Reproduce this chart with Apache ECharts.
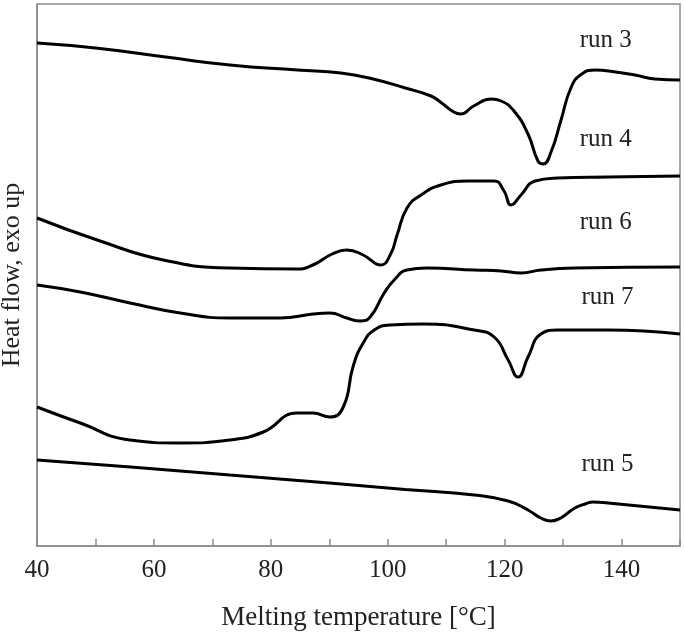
<!DOCTYPE html>
<html>
<head>
<meta charset="utf-8">
<script src="https://cdn.jsdelivr.net/npm/echarts@6/dist/echarts.min.js"></script>
<style>
  html, body { margin: 0; padding: 0; background: #fff; }
  #chart { width: 685px; height: 639px; }
</style>
</head>
<body>
<div id="chart"></div>
<script>
// DSC melting curves, heat flow in arbitrary units (curves offset for clarity)
const run3 = [[40,5.03],[50,4.98],[62,4.89],[73,4.81],[84.5,4.76],[92,4.73],[97.5,4.67],[103,4.58],[107.4,4.50],[109,4.44],[111.3,4.34],[112.5,4.32],[114.7,4.40],[117.7,4.47],[119.4,4.45],[121.6,4.35],[124,4.12],[125.7,3.85],[126.6,3.82],[128,3.95],[129.6,4.25],[131.4,4.59],[133.2,4.72],[135.5,4.76],[139,4.74],[142.3,4.71],[145.7,4.67],[150,4.66]];
const run4 = [[40,3.28],[50.3,3.06],[61.6,2.86],[73,2.78],[84.5,2.77],[87.2,2.81],[90.5,2.92],[93,2.96],[95.8,2.91],[98.8,2.81],[100.5,2.92],[101.6,3.11],[103.3,3.38],[105.7,3.51],[109.1,3.61],[113.7,3.65],[118.2,3.65],[119.9,3.55],[121.1,3.41],[122.8,3.51],[125.2,3.65],[129.1,3.68],[137.7,3.69],[150,3.70]];
const run6 = [[40,2.61],[47.4,2.54],[55.9,2.43],[64.5,2.33],[73,2.28],[81.6,2.28],[87.2,2.32],[90.1,2.33],[93,2.28],[95.3,2.25],[97,2.29],[99.4,2.53],[101.1,2.66],[103.3,2.76],[106.7,2.78],[114.8,2.76],[119.4,2.75],[122.8,2.73],[126.2,2.76],[132,2.78],[150,2.79]];
const run7 = [[40,1.39],[47.4,1.23],[55.9,1.06],[64.5,1.03],[73,1.06],[78.7,1.14],[84.5,1.33],[87.2,1.33],[90.1,1.29],[92.4,1.39],[94.1,1.80],[95.8,2.03],[97.7,2.16],[100.4,2.21],[106.2,2.22],[114.8,2.16],[118.2,2.09],[120.6,1.86],[122.3,1.69],[124,1.89],[126.2,2.12],[129.1,2.16],[137.7,2.16],[150,2.12]];
const run5 = [[40,0.86],[56,0.79],[73,0.71],[90,0.63],[103,0.565],[114.8,0.51],[120.6,0.45],[124,0.36],[126.2,0.28],[127.9,0.25],[129.6,0.28],[132,0.38],[133.8,0.42],[135.1,0.44],[137.7,0.43],[150,0.36]];

const runNames = ['run 3', 'run 4', 'run 6', 'run 7', 'run 5'];
const runData = [run3, run4, run6, run7, run5];
// label anchor: [x value, y value]
const labelPos = [[137.3, 5.06], [137.3, 4.07], [137.3, 3.24], [137.6, 2.49], [137.6, 0.82]];

const font = '"Liberation Serif", "Times New Roman", serif';
const chart = echarts.init(document.getElementById('chart'));

chart.setOption({
    animation: false,
    grid: { left: 37, right: 5, top: 4, bottom: 93, outerBoundsMode: 'none', show: true, borderColor: '#8c8c8c', borderWidth: 1.5 },
    xAxis: {
        type: 'value', min: 40, max: 150, interval: 10,
        name: 'Melting temperature [°C]', nameLocation: 'middle', nameGap: 58,
        nameTextStyle: { fontFamily: font, fontSize: 27, color: '#222' },
        axisLine: { lineStyle: { color: '#8c8c8c', width: 1.5 } },
        axisTick: { inside: true, length: 7, lineStyle: { color: '#8c8c8c', width: 1.5 } },
        axisLabel: { fontFamily: font, fontSize: 25, color: '#222', margin: 12,
            formatter: v => (v % 20 === 0 && v < 150) ? v : '' },
        splitLine: { show: false }
    },
    yAxis: {
        type: 'value', min: 0, max: 5.42,
        name: 'Heat flow, exo up', nameLocation: 'middle', nameGap: 12, nameRotate: 90,
        nameTextStyle: { fontFamily: font, fontSize: 26, color: '#222' },
        axisLine: { show: true, lineStyle: { color: '#8c8c8c', width: 1.5 } },
        axisTick: { show: false },
        axisLabel: { show: false },
        splitLine: { show: false }
    },
    series: runData.map((d, i) => ({
        name: runNames[i],
        type: 'line',
        data: d,
        smooth: 0.5,
        showSymbol: false,
        lineStyle: { color: '#000', width: 3 },
        markPoint: {
            symbol: 'circle',
            symbolSize: 1,
            itemStyle: { color: 'rgba(0,0,0,0)' },
            data: [{ coord: labelPos[i], value: runNames[i] }],
            label: { show: true, position: 'inside', formatter: runNames[i], fontFamily: font, fontSize: 25, color: '#222' }
        }
    }))
});
</script>
</body>
</html>
